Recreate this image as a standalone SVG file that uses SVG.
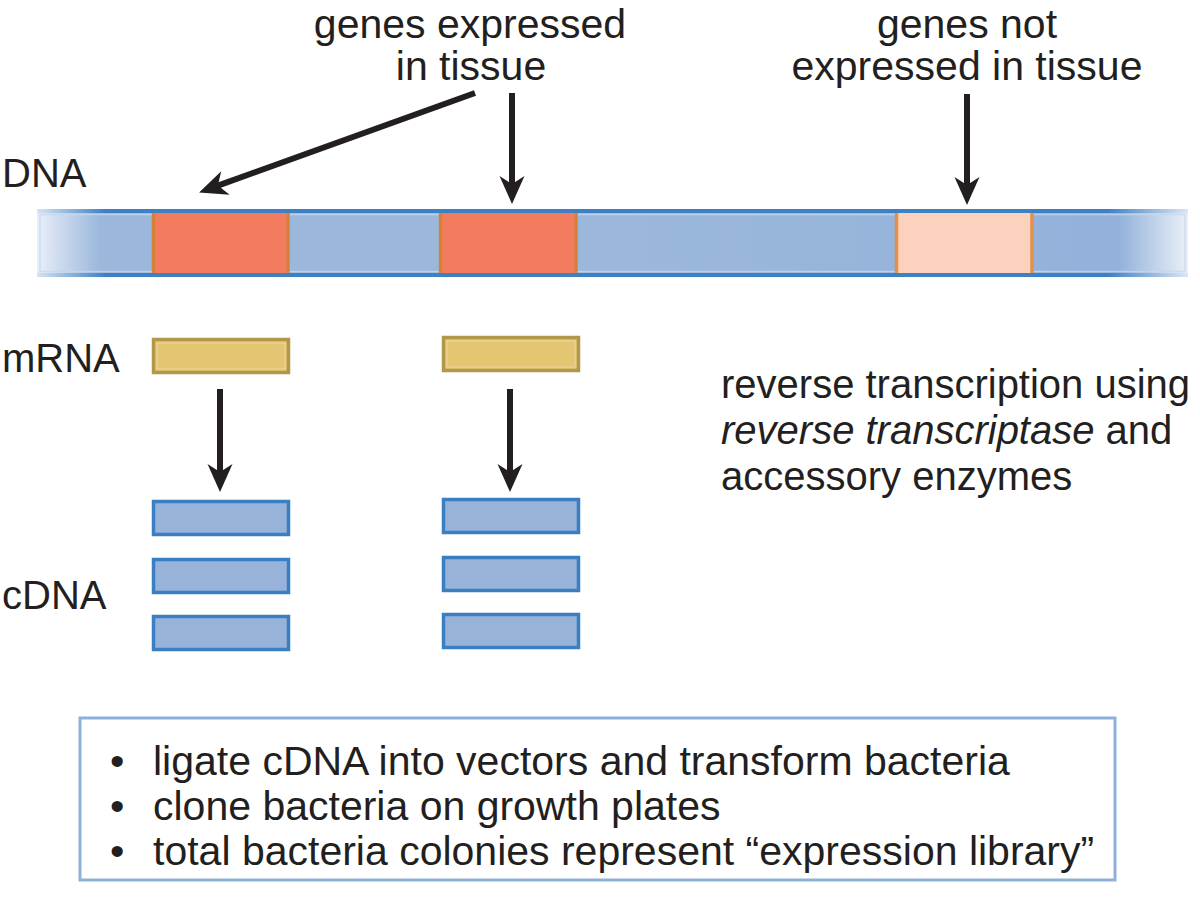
<svg xmlns="http://www.w3.org/2000/svg" width="1200" height="904" viewBox="0 0 1200 904">
  <style>
    text { font-family: "Liberation Sans", Arial, sans-serif; fill: #231f20; }
    .lbl { font-size: 40px; }
    .box { font-size: 41px; }
    .hdr { font-size: 41px; text-anchor: middle; }
    .mrna { fill: #e4c672; stroke: #b09749; stroke-width: 3.5; }
    .cdna { fill: #97b3da; stroke: #3a7fc1; stroke-width: 3.5; }
    .inner { fill: none; stroke: #ffffff; stroke-opacity: 0.25; stroke-width: 1.2; }
    .shaft { stroke: #231f20; stroke-width: 6; fill: none; }
    .gene { fill: #f47c5e; }
    .geneoff { fill: #fcd2bf; }
    .geneside { stroke: #d6803a; stroke-width: 3.5; }
    .geneside2 { stroke: #e58f4f; stroke-width: 3.5; }
  </style>
  <defs>
    <marker id="ah" markerUnits="userSpaceOnUse" markerWidth="30" markerHeight="28" viewBox="0 -14 30 28" refX="8" refY="0" orient="auto">
      <path d="M28,0 L0,-12.5 L8,0 L0,12.5 Z" fill="#231f20"/>
    </marker>
    <linearGradient id="barFill" gradientUnits="userSpaceOnUse" x1="37" y1="0" x2="1188" y2="0">
      <stop offset="0" stop-color="#e9eff8"/>
      <stop offset="0.055" stop-color="#9bb7dc"/>
      <stop offset="0.5" stop-color="#9bb7dc"/>
      <stop offset="0.94" stop-color="#93b1da"/>
      <stop offset="1" stop-color="#eaf0f8"/>
    </linearGradient>
    <linearGradient id="barEdge" gradientUnits="userSpaceOnUse" x1="37" y1="0" x2="1188" y2="0">
      <stop offset="0" stop-color="#d6e3f2"/>
      <stop offset="0.06" stop-color="#3d80c4"/>
      <stop offset="0.93" stop-color="#3d80c4"/>
      <stop offset="1" stop-color="#dbe6f3"/>
    </linearGradient>
  </defs>
  <rect width="1200" height="904" fill="#ffffff"/>

  <g id="label-genes-expressed">
    <text class="hdr" x="470" y="38">genes expressed</text>
    <text class="hdr" x="471" y="80">in tissue</text>
  </g>
  <g id="label-genes-not-expressed">
    <text class="hdr" x="967" y="38">genes not</text>
    <text class="hdr" x="967" y="80">expressed in tissue</text>
  </g>

  <g id="label-dna"><text class="lbl" x="2" y="187">DNA</text></g>
  <g id="label-mrna"><text class="lbl" x="2" y="372">mRNA</text></g>
  <g id="label-cdna"><text class="lbl" x="2" y="609">cDNA</text></g>

  <g id="dna-strand">
    <rect x="37" y="209" width="1151" height="68" fill="url(#barFill)"/>
    <rect x="37" y="209" width="1151" height="4" fill="url(#barEdge)"/>
    <rect x="37" y="273" width="1151" height="4" fill="url(#barEdge)"/>
    <rect x="40" y="214.5" width="1145" height="57" fill="none" stroke="#c6d7ee" stroke-width="1.5" stroke-opacity="0.8"/>
  </g>
  <g id="gene-1">
    <rect class="gene" x="152" y="213" width="137" height="60"/>
    <line class="geneside" x1="153.5" y1="213" x2="153.5" y2="273"/>
    <line class="geneside" x1="288" y1="213" x2="288" y2="273"/>
  </g>
  <g id="gene-2">
    <rect class="gene" x="439" y="213" width="138" height="60"/>
    <line class="geneside" x1="440.5" y1="213" x2="440.5" y2="273"/>
    <line class="geneside" x1="576" y1="213" x2="576" y2="273"/>
  </g>
  <g id="gene-3">
    <rect class="geneoff" x="895" y="213" width="138" height="60"/>
    <line class="geneside2" x1="896.5" y1="213" x2="896.5" y2="273"/>
    <line class="geneside2" x1="1032" y1="213" x2="1032" y2="273"/>
  </g>

  <g id="mrna-1"><rect class="mrna" x="153.5" y="339.5" width="135" height="33"/><rect class="inner" x="157" y="343" width="128" height="26"/></g>
  <g id="mrna-2"><rect class="mrna" x="443.5" y="337.5" width="135" height="33"/><rect class="inner" x="447" y="341" width="128" height="26"/></g>

  <g id="cdna-1a"><rect class="cdna" x="153.5" y="501.5" width="135" height="33"/></g>
  <g id="cdna-1b"><rect class="cdna" x="153.5" y="559.5" width="135" height="33"/></g>
  <g id="cdna-1c"><rect class="cdna" x="153.5" y="616.5" width="135" height="33"/></g>
  <g id="cdna-2a"><rect class="cdna" x="443.5" y="499.5" width="135" height="33"/></g>
  <g id="cdna-2b"><rect class="cdna" x="443.5" y="557.5" width="135" height="33"/></g>
  <g id="cdna-2c"><rect class="cdna" x="443.5" y="614.5" width="135" height="33"/></g>

  <g id="label-reverse-transcription">
    <text class="lbl" x="721" y="398">reverse transcription using</text>
    <text class="lbl" x="721" y="444"><tspan font-style="italic">reverse transcriptase</tspan> and</text>
    <text class="lbl" x="721" y="490">accessory enzymes</text>
  </g>

  <g id="connectors">
    <line class="shaft" x1="475" y1="93" x2="217.9" y2="185.6" marker-end="url(#ah)"/>
    <line class="shaft" x1="512" y1="93" x2="512" y2="184" marker-end="url(#ah)"/>
    <line class="shaft" x1="967" y1="94" x2="967" y2="185" marker-end="url(#ah)"/>
    <line class="shaft" x1="220" y1="389" x2="220" y2="472" marker-end="url(#ah)"/>
    <line class="shaft" x1="510" y1="389" x2="510" y2="472" marker-end="url(#ah)"/>
  </g>

  <g id="summary-box">
    <rect x="80" y="718" width="1035" height="162" fill="#ffffff" stroke="#8fb0da" stroke-width="3"/>
    <text class="box" x="110" y="775">•</text>
    <text class="box" x="153" y="775">ligate cDNA into vectors and transform bacteria</text>
    <text class="box" x="110" y="820">•</text>
    <text class="box" x="153" y="820">clone bacteria on growth plates</text>
    <text class="box" x="110" y="865">•</text>
    <text class="box" x="153" y="865">total bacteria colonies represent “expression library”</text>
  </g>
</svg>
